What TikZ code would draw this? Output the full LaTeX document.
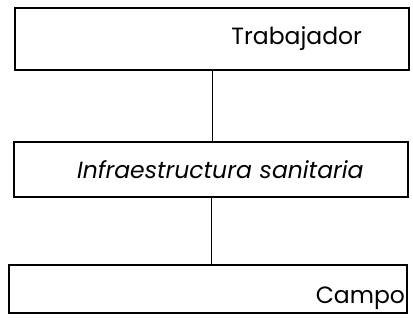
\documentclass[tikz,border=0pt]{standalone}
\usepackage{fontspec}
\setmainfont{Poppins}
\usetikzlibrary{positioning}
\tikzset{
	caja/.style={draw, line width=1.4pt, inner ysep=0pt, font=\fontsize{23.5}{26}\selectfont},
	enlace/.style={line width=0.9pt}
}
\begin{document}
\begin{tikzpicture}[x=1pt, y=1pt]
	\useasboundingbox (0, 0) rectangle (413, 324);
	\node[caja, minimum height=62pt, text width=300pt, inner xsep=47pt, align=right](trabajador)at(212, 285){Trabajador};
	\node[caja, minimum height=55pt, text width=334pt, inner xsep=30pt, align=left](infra)at(211, 154.5){\hspace*{33pt}\itshape Infraestructura sanitaria};
	\node[caja, minimum height=48pt, text width=394pt, inner xsep=2pt, align=right, text height=30pt, text depth=0pt](campo)at(208, 35){Campo};
	\draw[enlace](trabajador.south)--(trabajador.south |- infra.north);
	\draw[enlace](infra.south)--(infra.south |- campo.north);
\end{tikzpicture}
\end{document}
